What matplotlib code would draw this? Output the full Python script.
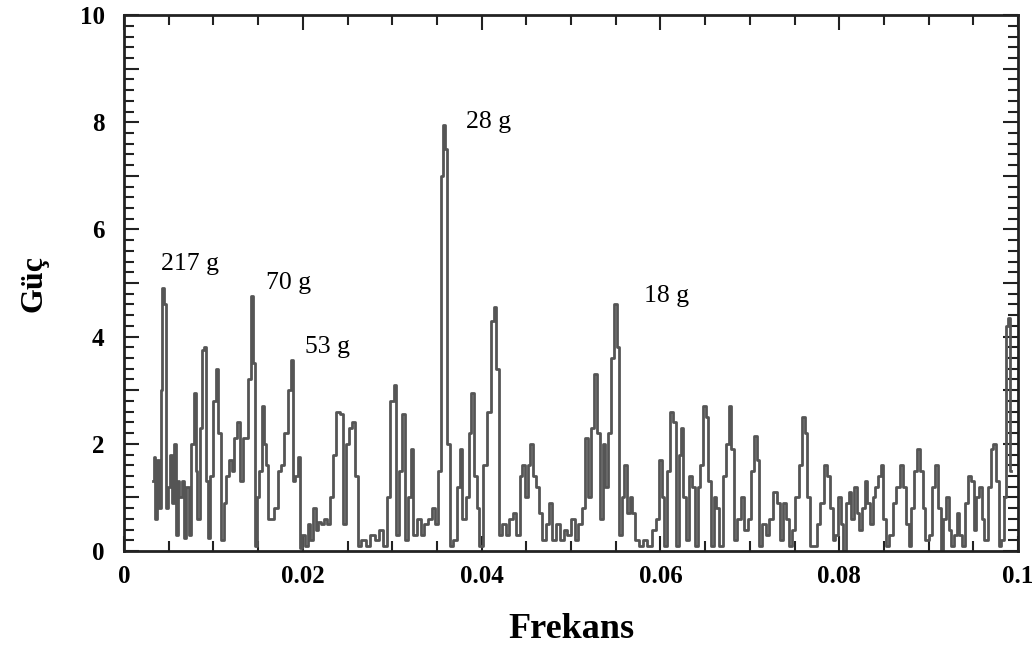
import matplotlib
matplotlib.use("Agg")
import matplotlib.pyplot as plt
from matplotlib.ticker import MultipleLocator, FuncFormatter

# frequency (cycles/day) and power
freq = [0.0033, 0.0034, 0.0036, 0.0038, 0.0040, 0.0042, 0.0044, 0.0046, 0.0048, 0.0050,
        0.0053, 0.0055, 0.0057, 0.0059, 0.0061, 0.0063, 0.0066, 0.0068, 0.0071, 0.0074,
        0.0077, 0.0079, 0.0081, 0.0083, 0.0086, 0.0089, 0.0091, 0.0093, 0.0095, 0.0098,
        0.0101, 0.0104, 0.0106, 0.0108, 0.0110, 0.0113, 0.0116, 0.0119, 0.0122, 0.0125,
        0.0128, 0.0131, 0.0136, 0.0141, 0.0143, 0.0145, 0.0147, 0.0150, 0.0153, 0.0156,
        0.0158, 0.0160, 0.0163, 0.0166, 0.0170, 0.0174, 0.0178, 0.0181, 0.0185, 0.0188,
        0.0190, 0.0193, 0.0196, 0.0198, 0.0201, 0.0204, 0.0207, 0.0210, 0.0213, 0.0216,
        0.0219, 0.0222, 0.0225, 0.0229, 0.0232, 0.0236, 0.0239, 0.0244, 0.0247, 0.0250,
        0.0254, 0.0257, 0.0260, 0.0263, 0.0268, 0.0273, 0.0278, 0.0283, 0.0288, 0.0292,
        0.0296, 0.0300, 0.0303, 0.0306, 0.0309, 0.0313, 0.0316, 0.0319, 0.0322, 0.0325,
        0.0330, 0.0334, 0.0338, 0.0342, 0.0346, 0.0350, 0.0353, 0.0356, 0.0358, 0.0360,
        0.0363, 0.0366, 0.0370, 0.0374, 0.0377, 0.0380, 0.0384, 0.0387, 0.0390, 0.0393,
        0.0396, 0.0399, 0.0403, 0.0408, 0.0412, 0.0415, 0.0418, 0.0421, 0.0425, 0.0429,
        0.0433, 0.0437, 0.0441, 0.0444, 0.0447, 0.0450, 0.0453, 0.0456, 0.0459, 0.0462,
        0.0466, 0.0470, 0.0473, 0.0477, 0.0481, 0.0485, 0.0490, 0.0494, 0.0498, 0.0502,
        0.0506, 0.0510, 0.0514, 0.0518, 0.0521, 0.0524, 0.0528, 0.0531, 0.0534, 0.0537,
        0.0540, 0.0543, 0.0546, 0.0550, 0.0552, 0.0555, 0.0558, 0.0561, 0.0564, 0.0567,
        0.0570, 0.0573, 0.0578, 0.0583, 0.0588, 0.0593, 0.0597, 0.0600, 0.0603, 0.0606,
        0.0609, 0.0613, 0.0616, 0.0619, 0.0622, 0.0624, 0.0627, 0.0630, 0.0634, 0.0637,
        0.0640, 0.0643, 0.0646, 0.0649, 0.0652, 0.0655, 0.0658, 0.0661, 0.0664, 0.0668,
        0.0671, 0.0675, 0.0678, 0.0681, 0.0684, 0.0688, 0.0692, 0.0696, 0.0700, 0.0703,
        0.0706, 0.0709, 0.0712, 0.0716, 0.0720, 0.0724, 0.0728, 0.0732, 0.0735, 0.0739,
        0.0742, 0.0745, 0.0749, 0.0753, 0.0757, 0.0760, 0.0763, 0.0766, 0.0769, 0.0773,
        0.0777, 0.0781, 0.0785, 0.0788, 0.0791, 0.0794, 0.0797, 0.0800, 0.0803, 0.0806,
        0.0809, 0.0812, 0.0815, 0.0818, 0.0821, 0.0824, 0.0827, 0.0830, 0.0833, 0.0836,
        0.0839, 0.0842, 0.0845, 0.0848, 0.0851, 0.0854, 0.0858, 0.0862, 0.0866, 0.0870,
        0.0873, 0.0876, 0.0879, 0.0882, 0.0886, 0.0889, 0.0892, 0.0895, 0.0898, 0.0902,
        0.0906, 0.0909, 0.0912, 0.0915, 0.0918, 0.0921, 0.0924, 0.0927, 0.0930, 0.0933,
        0.0936, 0.0939, 0.0943, 0.0946, 0.0949, 0.0952, 0.0955, 0.0958, 0.0961, 0.0964,
        0.0968, 0.0971, 0.0974, 0.0977, 0.0980, 0.0983, 0.0986, 0.0988, 0.0990, 0.0992]
power = [1.3, 1.75, 0.6, 1.7, 0.8, 3.0, 4.9, 4.6, 0.8, 1.2,
         1.8, 0.9, 2.0, 0.3, 1.3, 1.0, 1.3, 0.25, 1.2, 0.3,
         2.0, 2.95, 1.5, 0.6, 2.3, 3.75, 3.8, 1.3, 0.25, 1.4,
         2.8, 3.4, 2.2, 2.2, 0.2, 0.9, 1.4, 1.7, 1.5, 2.1,
         2.4, 1.3, 2.1, 3.2, 4.75, 3.5, 0.1, 1.0, 1.5, 2.7,
         2.0, 1.6, 0.6, 0.6, 0.8, 1.5, 1.6, 2.2, 3.0, 3.56,
         1.3, 1.4, 1.75, 0.05, 0.3, 0.1, 0.5, 0.2, 0.8, 0.4,
         0.55, 0.5, 0.6, 0.5, 1.0, 1.8, 2.6, 2.55, 0.5, 2.0,
         2.3, 2.4, 1.4, 0.1, 0.2, 0.1, 0.3, 0.2, 0.4, 0.1,
         1.0, 2.8, 3.1, 0.3, 1.5, 2.55, 0.2, 1.0, 1.9, 0.3,
         0.6, 0.3, 0.5, 0.6, 0.8, 0.5, 1.5, 7.0, 7.95, 7.5,
         2.0, 0.1, 0.2, 1.2, 1.9, 0.6, 1.0, 2.2, 2.95, 1.4,
         0.8, 0.1, 1.6, 2.6, 4.3, 4.55, 3.4, 0.3, 0.5, 0.3,
         0.6, 0.7, 0.3, 1.4, 1.6, 1.0, 1.6, 2.0, 1.4, 1.2,
         0.7, 0.2, 0.5, 0.9, 0.2, 0.5, 0.2, 0.4, 0.3, 0.6,
         0.2, 0.5, 0.8, 2.1, 1.0, 2.3, 3.3, 2.2, 0.6, 2.0,
         1.2, 2.2, 3.6, 4.6, 3.8, 0.3, 1.0, 1.6, 0.7, 1.0,
         0.7, 0.2, 0.1, 0.2, 0.1, 0.4, 0.6, 1.7, 1.0, 0.1,
         1.5, 2.6, 2.4, 0.1, 1.8, 2.3, 1.0, 0.2, 1.4, 1.2,
         0.1, 1.2, 1.6, 2.7, 2.5, 1.3, 0.1, 1.0, 0.8, 0.1,
         1.4, 2.0, 2.7, 1.9, 0.2, 0.6, 1.0, 0.4, 0.6, 1.5,
         2.15, 1.7, 0.1, 0.5, 0.3, 0.6, 1.1, 0.9, 0.2, 0.9,
         0.6, 0.1, 0.4, 1.0, 1.6, 2.5, 2.2, 1.0, 0.1, 0.1,
         0.5, 0.9, 1.6, 1.4, 0.8, 0.2, 0.3, 1.0, 0.5, 0.0,
         0.9, 1.1, 0.6, 1.2, 0.7, 0.4, 0.8, 1.3, 0.9, 0.5,
         1.0, 1.2, 1.4, 1.6, 0.6, 0.1, 0.3, 0.9, 1.2, 1.6,
         1.2, 0.5, 0.1, 0.8, 1.5, 1.9, 1.5, 0.8, 0.2, 0.3,
         1.2, 1.6, 0.8, 0.0, 0.6, 1.0, 0.4, 0.1, 0.3, 0.7,
         0.3, 0.1, 0.9, 1.4, 1.3, 0.4, 1.0, 1.2, 0.6, 0.2,
         1.2, 1.9, 2.0, 1.3, 0.1, 0.2, 1.0, 4.2, 4.35, 1.5]

# period labels next to the main peaks
peak_labels = ['217 g', '70 g', '53 g', '28 g', '18 g']
label_x = [0.0074, 0.0184, 0.0228, 0.0408, 0.0607]
label_y = [5.35, 5.0, 3.8, 8.0, 4.75]

serif = 'Liberation Serif'

fig = plt.figure(figsize=(10.35, 6.55), dpi=100)
ax = fig.add_axes([0.1198, 0.1588, 0.8638, 0.8182])

ax.plot(freq, power, color='#555555', linewidth=2, drawstyle='steps-mid')

for txt, x, y in zip(peak_labels, label_x, label_y):
    ax.text(x, y, txt, fontsize=18.5, family=serif, ha='center', va='center')

ax.set_xlim(0, 0.1)
ax.set_ylim(0, 10)

ax.xaxis.set_major_locator(MultipleLocator(0.02))
ax.xaxis.set_minor_locator(MultipleLocator(0.005))
ax.xaxis.set_major_formatter(FuncFormatter(lambda v, p: '0' if abs(v) < 1e-9 else ('0.1' if v > 0.099 else '%.2f' % v)))
ax.yaxis.set_major_locator(MultipleLocator(1))
ax.yaxis.set_minor_locator(MultipleLocator(0.2))
ax.yaxis.set_major_formatter(FuncFormatter(lambda v, p: '%d' % v if int(round(v)) % 2 == 0 else ''))

ax.tick_params(which='both', direction='in', top=True, right=True, width=1.5, color='#222222')
ax.tick_params(which='major', length=11)
ax.tick_params(which='minor', length=7)
ax.tick_params(axis='x', which='major', pad=10)
ax.tick_params(axis='y', which='major', pad=14)

for lab in ax.get_xticklabels() + ax.get_yticklabels():
    lab.set_fontfamily(serif)
    lab.set_fontweight('bold')
    lab.set_fontsize(18)

for s in ax.spines.values():
    s.set_linewidth(2)
    s.set_color('#222222')

ax.set_xlabel('Frekans', fontsize=26, fontweight='bold', family=serif, labelpad=18)
ax.set_ylabel('Güç', fontsize=23, fontweight='bold', family=serif, labelpad=22)

fig.savefig('out.png', dpi=100)
